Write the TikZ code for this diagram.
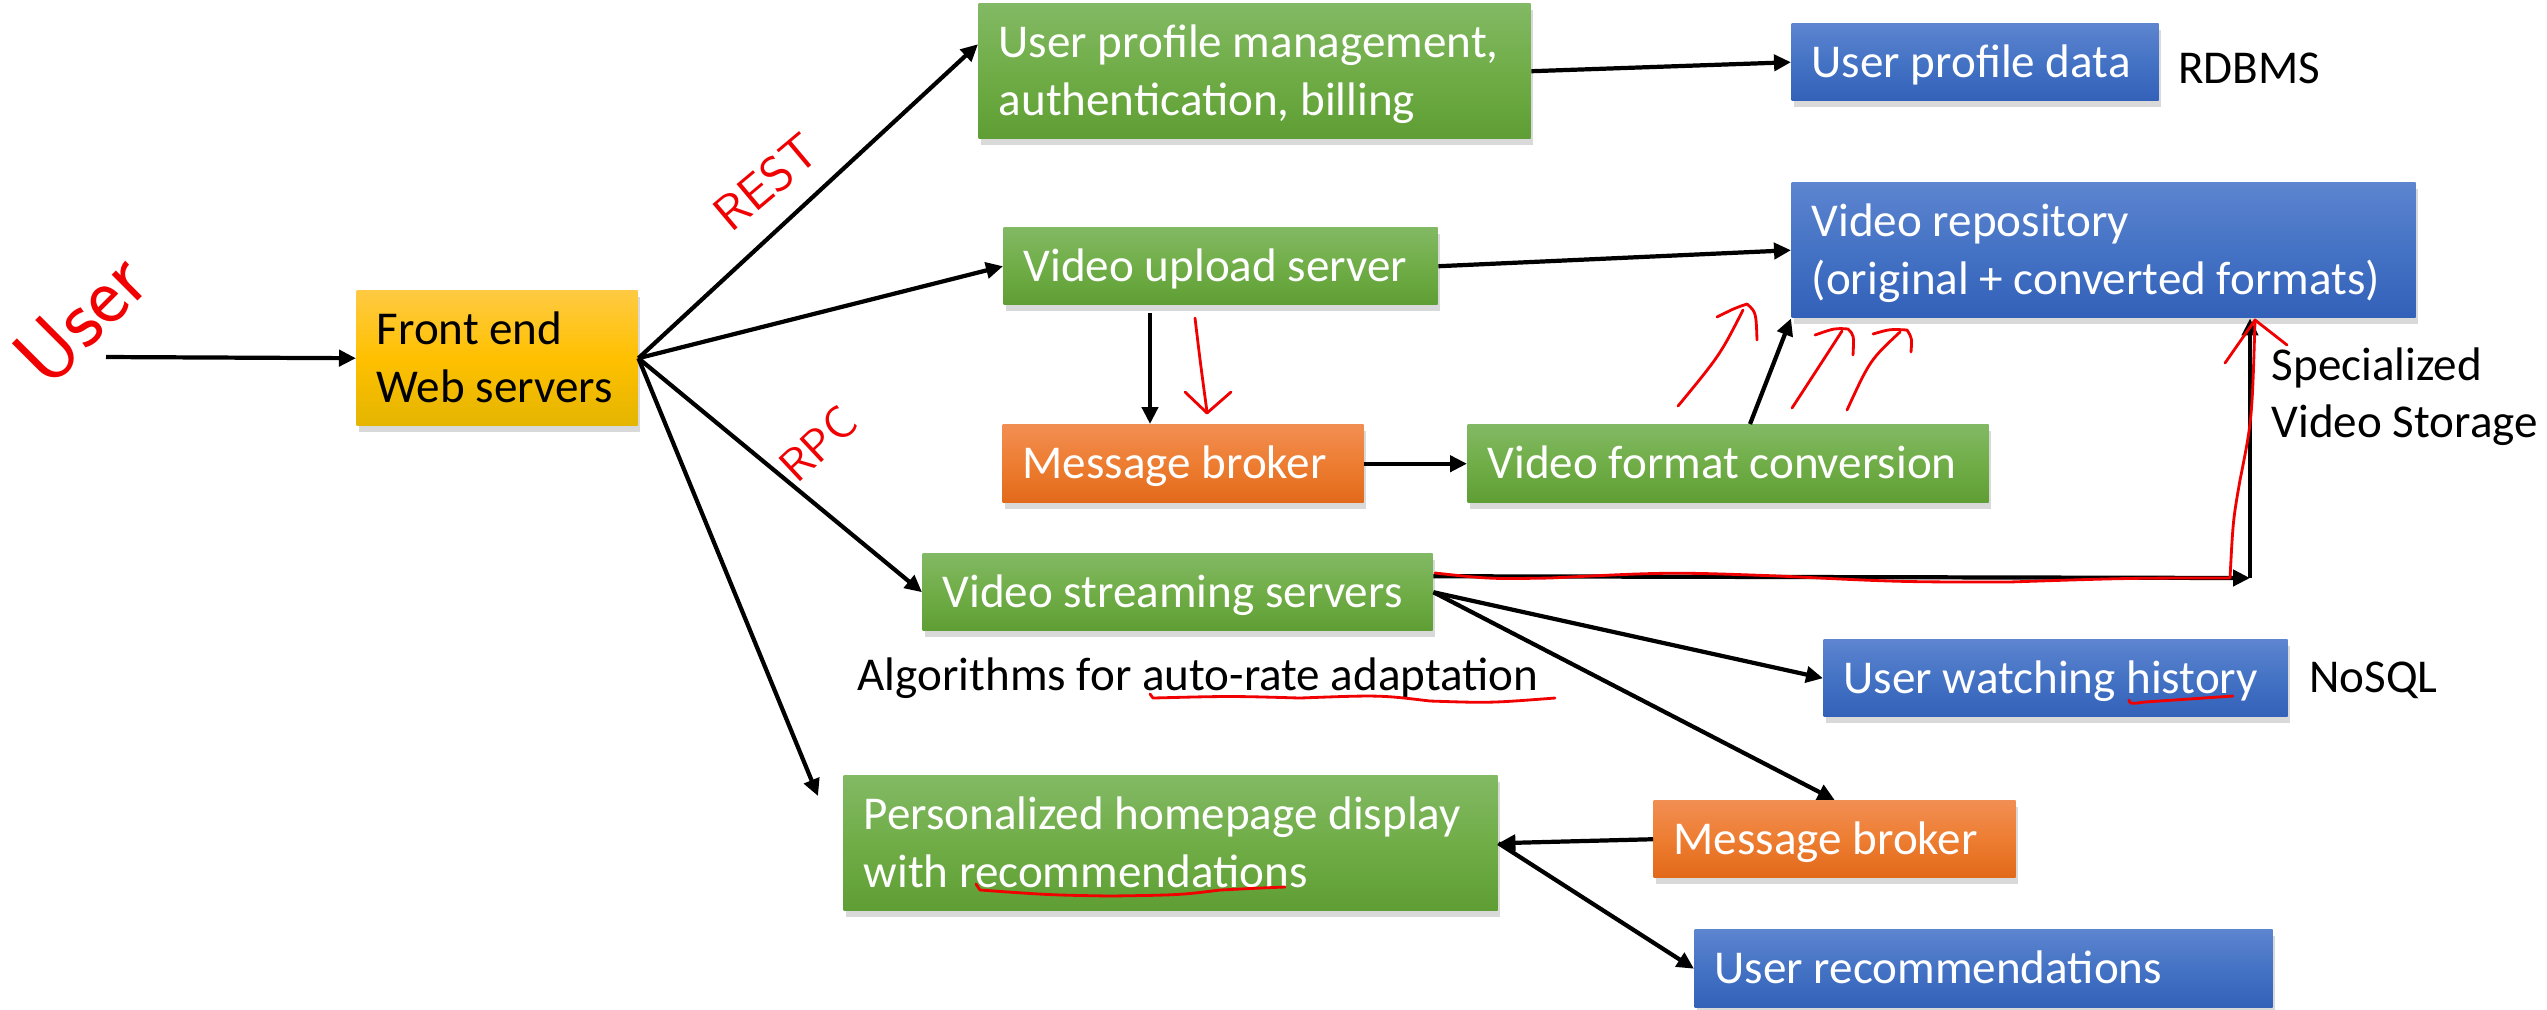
\documentclass[tikz,border=0pt]{standalone}
\usepackage{fontspec}
\setmainfont{Carlito}
\usepackage{tikz}
\usetikzlibrary{arrows.meta, positioning, shadows}

\definecolor{grtop}{HTML}{82B964}
\definecolor{grmid}{HTML}{70AD47}
\definecolor{grbot}{HTML}{5F9E34}
\definecolor{bltop}{HTML}{5D85D0}
\definecolor{blmid}{HTML}{4472C4}
\definecolor{blbot}{HTML}{3361B9}
\definecolor{ortop}{HTML}{F28E53}
\definecolor{ormid}{HTML}{ED7D31}
\definecolor{orbot}{HTML}{E2691A}
\definecolor{gdtop}{HTML}{FFCA42}
\definecolor{gdmid}{HTML}{FFC000}
\definecolor{gdbot}{HTML}{E4B500}
\definecolor{inkred}{HTML}{F00000}

\newcommand{\boxfont}{\fontsize{13.4}{16.3}\selectfont}
% keeps the capitals of a box centred, whatever the descenders
\newcommand{\capstrut}{\rule[-0.25em]{0pt}{1.144em}}

\begin{document}
\begin{tikzpicture}[
  x=1cm, y=-1cm,
  box/.style={anchor=north west, inner xsep=0.2cm, inner ysep=0pt, align=flush left,
    text=white, font=\boxfont,
    execute at begin node=\capstrut, execute at end node=\capstrut,
    drop shadow={shadow xshift=0.02cm, shadow yshift=-0.06cm, opacity=0.3}},
  greenbox/.style={box, top color=grtop, bottom color=grbot, middle color=grmid},
  bluebox/.style={box, top color=bltop, bottom color=blbot, middle color=blmid},
  orangebox/.style={box, top color=ortop, bottom color=orbot, middle color=ormid},
  goldbox/.style={box, text=black, top color=gdtop, bottom color=gdbot, middle color=gdmid},
  note/.style={inner sep=0pt, font=\boxfont},
  arr/.style={-{Triangle[length=0.17cm, width=0.16cm]}, line width=1.2pt},
  ink/.style={inkred, line width=0.8pt, line cap=round, line join=round},
  scrawl/.style={inkred, inner sep=0pt}
]
\useasboundingbox (0,0) rectangle (25.47,10.09);

% Entry: front end
\node[goldbox, minimum width=2.81cm, minimum height=1.35cm, text width=2.41cm]
  (front) at (3.56,2.90) {Front end\\Web servers};

% Top row: profiles
\node[greenbox, minimum width=5.52cm, minimum height=1.35cm, text width=5.12cm]
  (prof) at (9.78,0.03) {User profile management,\\authentication, billing};
\node[bluebox, minimum width=3.67cm, minimum height=0.77cm, text width=3.27cm]
  (pdata) at (17.91,0.23) {User profile data};
\node[note, right=0.18cm of pdata, yshift=-0.06cm] (rdbms) {RDBMS};

% Upload path
\node[greenbox, minimum width=4.34cm, minimum height=0.77cm, text width=3.94cm]
  (upload) at (10.03,2.27) {Video upload server};
\node[bluebox, minimum width=6.24cm, minimum height=1.35cm, text width=5.84cm]
  (repo) at (17.91,1.82) {Video repository\\(original + converted formats)};
\node[orangebox, minimum width=3.61cm, minimum height=0.78cm, text width=3.21cm]
  (mb1) at (10.02,4.24) {Message broker};
\node[greenbox, minimum width=5.21cm, minimum height=0.78cm, text width=4.81cm]
  (conv) at (14.67,4.24) {Video format conversion};
\node[note, anchor=west, align=flush left] (store) at (22.71,3.97) {Specialized\\Video Storage};

% Streaming path
\node[greenbox, minimum width=5.10cm, minimum height=0.77cm, text width=4.70cm]
  (stream) at (9.22,5.53) {Video streaming servers};
\node[note, anchor=west] (algo) at (8.57,6.78) {Algorithms for auto-rate adaptation};
\node[bluebox, minimum width=4.64cm, minimum height=0.77cm, text width=4.24cm]
  (hist) at (18.23,6.39) {User watching history};
\node[note, right=0.2cm of hist, yshift=-0.02cm] (nosql) {NoSQL};

% Recommendations
\node[greenbox, minimum width=6.54cm, minimum height=1.35cm, text width=6.14cm]
  (home) at (8.43,7.75) {Personalized homepage display\\with recommendations};
\node[orangebox, minimum width=3.62cm, minimum height=0.77cm, text width=3.22cm]
  (mb2) at (16.53,8.00) {Message broker};
\node[bluebox, minimum width=5.78cm, minimum height=0.78cm, text width=5.38cm]
  (recs) at (16.94,9.29) {User recommendations};

% Free ends
\coordinate (entry) at (1.06,3.57);
\coordinate (homein) at (8.18,7.96);
\coordinate (corner) at (22.50,5.78);

% Arrows
\draw[arr] (entry) -- (front.west);
\draw[arr] (front.east) -- ([yshift=0.27cm]prof.west);
\draw[arr] (front.east) -- (upload.west);
\draw[arr] (front.east) -- (stream.west);
\draw[arr] (front.east) -- (homein);
\draw[arr] (prof.east) -- (pdata.west);
\draw[arr] (upload.east) -- (repo.west);
\draw[arr] ([xshift=1.47cm,yshift=-0.08cm]upload.south west) -- ([xshift=1.48cm]mb1.north west);
\draw[arr] (mb1) -- (conv);
\draw[arr] ([xshift=2.83cm]conv.north west) -- (repo.south west);
\draw[arr] ([yshift=0.16cm]stream.east) -- (corner);
\draw[arr] (corner) -- (corner |- repo.south);
\draw[arr] (stream.east) -- (hist.west);
\draw[arr] (stream.east) -- (mb2.north);
\draw[arr] (mb2.west) -- (home.east);
\draw[arr] (home.east) -- (recs.west);

% Pen notes
\node[scrawl, rotate=45, font=\sffamily\fontsize{24}{24}\selectfont] (usr) at (0.80,3.18) {User};
\node[scrawl, rotate=40, font=\sffamily\fontsize{14}{14}\selectfont] (rest) at (7.66,1.82) {REST};
\node[scrawl, rotate=43, font=\sffamily\fontsize{13}{13}\selectfont] (rpc) at (8.18,4.44) {RPC};

\draw[ink] (11.95,3.18) .. controls (12.00,3.60) .. (12.07,4.12);
\draw[ink] (11.85,3.92) -- (12.07,4.13) -- (12.31,3.92);

\draw[ink] (16.78,4.06) .. controls (17.20,3.55) .. (17.43,3.10);
\draw[ink] (17.17,3.17) .. controls (17.35,3.08) .. (17.47,3.04) .. controls (17.56,3.12) .. (17.57,3.40);
\draw[ink] (17.92,4.08) .. controls (18.20,3.65) .. (18.42,3.31);
\draw[ink] (18.15,3.35) .. controls (18.35,3.28) .. (18.48,3.29) .. controls (18.54,3.35) .. (18.53,3.55);
\draw[ink] (18.47,4.10) .. controls (18.70,3.60) .. (19.00,3.32);
\draw[ink] (18.73,3.34) .. controls (18.90,3.29) .. (19.07,3.30) .. controls (19.12,3.38) .. (19.11,3.52);

\draw[ink] (14.35,5.73) .. controls (14.90,5.79) .. (15.50,5.78)
  .. controls (16.70,5.72) .. (17.79,5.76) .. controls (19.00,5.82) .. (20.09,5.82)
  .. controls (21.30,5.78) .. (22.30,5.78) .. controls (22.33,5.20) .. (22.40,4.80)
  .. controls (22.52,4.20) .. (22.55,3.20);
\draw[ink] (22.25,3.63) -- (22.55,3.20) -- (22.87,3.45);

\draw[ink] (11.50,6.94) -- (11.53,6.98) .. controls (12.30,6.96) .. (13.00,6.98)
  .. controls (13.80,6.95) .. (14.30,7.01) .. controls (14.90,7.03) .. (15.55,6.98);
\draw[ink] (21.29,7.00) .. controls (21.30,7.04) .. (21.45,7.02) .. controls (21.90,6.99) .. (22.33,6.96);
\draw[ink] (9.76,8.84) -- (9.80,8.90) .. controls (10.50,8.95) .. (11.10,8.96)
  .. controls (11.80,8.95) .. (12.20,8.90) .. controls (12.60,8.88) .. (12.85,8.87);

\end{tikzpicture}
\end{document}
